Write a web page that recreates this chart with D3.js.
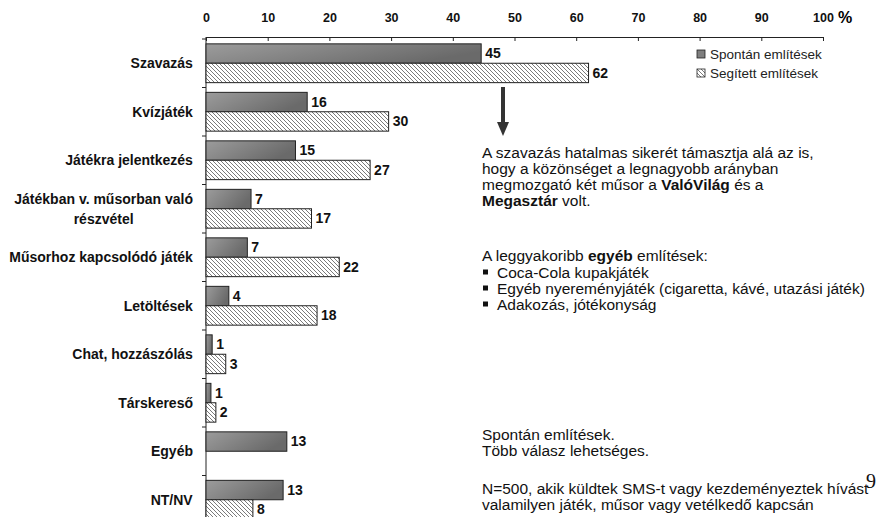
<html>

<head>
    <meta charset="utf-8">
    <script src="https://d3js.org/d3.v7.min.js"></script>
    <style>
        body {
            margin: 0;
            background-color: white;
            font-family: Arial, "Liberation Sans", Helvetica, sans-serif;
        }
        .axis text { font-size: 12.5px; font-weight: bold; fill: #111; }
        .axis path, .axis line { stroke: #222; }
        .note { font-size: 15.5px; fill: #111; }
    </style>
</head>

<body>
    <div id="chart"></div>
    <script>
        // data
        var categories = ["Szavazás", "Kvízjáték", "Játékra jelentkezés", "Játékban v. műsorban való|részvétel",
            "Műsorhoz kapcsolódó játék", "Letöltések", "Chat, hozzászólás", "Társkereső", "Egyéb", "NT/NV"];
        var spontan = [44.6, 16.4, 14.5, 7.3, 6.7, 3.7, 1.0, 0.8, 13.1, 12.5];
        var segitett = [62.0, 29.6, 26.6, 17.1, 21.6, 18.0, 3.2, 1.6, null, 7.6];
        var spontanLabels = ["45", "16", "15", "7", "7", "4", "1", "1", "13", "13"];
        var segitettLabels = ["62", "30", "27", "17", "22", "18", "3", "2", "", "8"];
        var seriesNames = ["Spontán említések", "Segített említések"];
        var xTicks = [0, 10, 20, 30, 40, 50, 60, 70, 80, 90, 100];

        var width = 881, height = 517;

        var svg = d3.select("#chart").append("svg")
            .attr("width", width).attr("height", height);

        var defs = svg.append("defs");
        var grad = defs.append("linearGradient").attr("id", "darkGrad")
            .attr("x1", "0").attr("y1", "0").attr("x2", "1").attr("y2", "0.4");
        grad.append("stop").attr("offset", "0").attr("stop-color", "#9c9c9c");
        grad.append("stop").attr("offset", "1").attr("stop-color", "#6a6a6a");

        var hatch = defs.append("pattern").attr("id", "hatch")
            .attr("patternUnits", "userSpaceOnUse")
            .attr("width", 4).attr("height", 4);
        hatch.append("rect").attr("width", 4).attr("height", 4).attr("fill", "white");
        hatch.append("path")
            .attr("d", "M-1,-1 L5,5 M3,-1 L5,1 M-1,3 L1,5")
            .attr("stroke", "#7a7a7a").attr("stroke-width", 1);

        var x = d3.scaleLinear().domain([0, 100]).range([206, 823]);
        var y = d3.scaleBand().domain(categories).range([39, 524])
            .paddingInner(0.2).paddingOuter(0.1);
        var sub = d3.scaleBand().domain(seriesNames).range([0, y.bandwidth()]);

        // top axis
        svg.append("g")
            .attr("class", "axis")
            .attr("transform", "translate(0,37)")
            .call(d3.axisTop(x).tickValues(xTicks).tickSizeInner(-4).tickSizeOuter(0).tickPadding(15))
            .call(function (g) { g.selectAll("text").attr("dy", "0"); });

        svg.append("text")
            .attr("x", 838).attr("y", 23)
            .style("font-size", "16px").style("font-weight", "bold")
            .text("%");

        // left axis line with ticks at category boundaries
        var bounds = d3.range(categories.length + 1).map(function (i) { return 39 + i * y.step(); });
        svg.append("line")
            .attr("x1", x(0)).attr("x2", x(0))
            .attr("y1", 37).attr("y2", height)
            .attr("stroke", "#222");
        svg.selectAll(".ytick").data(bounds).enter().append("line")
            .attr("class", "ytick")
            .attr("x1", x(0) - 4).attr("x2", x(0))
            .attr("y1", function (d) { return d; }).attr("y2", function (d) { return d; })
            .attr("stroke", "#222");

        // category labels
        var catG = svg.selectAll(".cat").data(categories).enter().append("text")
            .attr("class", "cat")
            .attr("text-anchor", "middle")
            .style("font-size", "14px").style("font-weight", "bold").style("fill", "#111");
        catG.each(function (d) {
            var lines = d.split("|");
            var el = d3.select(this);
            var cy = y(d) + y.bandwidth() / 2;
            lines.forEach(function (l, i) {
                el.append("tspan")
                    .attr("y", cy + (i - (lines.length - 1) / 2) * 20)
                    .attr("dy", "0.35em")
                    .text(l);
            });
            el.selectAll("tspan").attr("x", 0);
            var bb = this.getBBox();
            el.selectAll("tspan").attr("x", 193 - bb.width / 2);
        });

        // bars
        var rows = categories.map(function (c, i) {
            return { cat: c, sp: spontan[i], sg: segitett[i], spl: spontanLabels[i], sgl: segitettLabels[i] };
        });

        svg.selectAll(".bar-sp").data(rows).enter().append("rect")
            .attr("class", "bar-sp")
            .attr("x", x(0))
            .attr("y", function (d) { return y(d.cat) + sub(seriesNames[0]); })
            .attr("width", function (d) { return x(d.sp) - x(0); })
            .attr("height", sub.bandwidth())
            .attr("fill", "url(#darkGrad)")
            .attr("stroke", "#222").attr("stroke-width", 1);

        svg.selectAll(".bar-sg").data(rows.filter(function (d) { return d.sg != null; })).enter().append("rect")
            .attr("class", "bar-sg")
            .attr("x", x(0))
            .attr("y", function (d) { return y(d.cat) + sub(seriesNames[1]); })
            .attr("width", function (d) { return x(d.sg) - x(0); })
            .attr("height", sub.bandwidth())
            .attr("fill", "url(#hatch)")
            .attr("stroke", "#222").attr("stroke-width", 1);

        svg.selectAll(".lab-sp").data(rows).enter().append("text")
            .attr("x", function (d) { return x(d.sp) + 4; })
            .attr("y", function (d) { return y(d.cat) + sub(seriesNames[0]) + sub.bandwidth() / 2; })
            .attr("dy", "0.35em")
            .style("font-size", "14px").style("font-weight", "bold").style("fill", "#111")
            .text(function (d) { return d.spl; });

        svg.selectAll(".lab-sg").data(rows.filter(function (d) { return d.sg != null; })).enter().append("text")
            .attr("x", function (d) { return x(d.sg) + 4; })
            .attr("y", function (d) { return y(d.cat) + sub(seriesNames[1]) + sub.bandwidth() / 2; })
            .attr("dy", "0.35em")
            .style("font-size", "14px").style("font-weight", "bold").style("fill", "#111")
            .text(function (d) { return d.sgl; });

        // legend
        var legend = svg.selectAll(".legend").data(seriesNames).enter().append("g")
            .attr("transform", function (d, i) { return "translate(697," + (50 + i * 19) + ")"; });
        legend.append("rect")
            .attr("width", 8).attr("height", 8)
            .attr("fill", function (d, i) { return i === 0 ? "#7f7f7f" : "url(#hatch)"; })
            .attr("stroke", "#222").attr("stroke-width", 0.8);
        legend.append("text")
            .attr("x", 13).attr("y", 4).attr("dy", "0.35em")
            .style("font-size", "13.5px").style("fill", "#222")
            .text(function (d) { return d; });

        // arrow
        svg.append("line")
            .attr("x1", 503).attr("x2", 503).attr("y1", 87).attr("y2", 124)
            .attr("stroke", "#333").attr("stroke-width", 4);
        svg.append("path")
            .attr("d", "M497,122 L509,122 L503,136 Z")
            .attr("fill", "#333");

        // notes
        function note(lines, x0, y0, step) {
            var t = svg.append("text").attr("class", "note");
            lines.forEach(function (parts, i) {
                var first = true;
                parts.forEach(function (p) {
                    var ts = t.append("tspan").text(p[0]);
                    if (p[1]) ts.style("font-weight", "bold");
                    if (first) { ts.attr("x", x0).attr("y", y0 + i * step); first = false; }
                });
            });
            return t;
        }

        note([
            [["A szavazás hatalmas sikerét támasztja alá az is,"]],
            [["hogy a közönséget a legnagyobb arányban"]],
            [["megmozgató két műsor a "], ["ValóVilág", true], [" és a"]],
            [["Megasztár", true], [" volt."]]
        ], 482, 157.5, 16);

        note([[["A leggyakoribb "], ["egyéb", true], [" említések:"]]], 482, 261, 16);
        var bullets = ["Coca-Cola kupakjáték", "Egyéb nyereményjáték (cigaretta, kávé, utazási játék)", "Adakozás, jótékonyság"];
        bullets.forEach(function (b, i) {
            svg.append("rect").attr("x", 483).attr("y", 272 + i * 16 - 2.5)
                .attr("width", 5).attr("height", 5).attr("fill", "#111");
            note([[[b]]], 497, 277.5 + i * 16, 16);
        });

        note([[["Spontán említések."]], [["Több válasz lehetséges."]]], 482, 439.5, 16);
        note([[["N=500, akik küldtek SMS-t vagy kezdeményeztek hívást"]],
            [["valamilyen játék, műsor vagy vetélkedő kapcsán"]]], 482, 493.5, 16);

        svg.append("text")
            .attr("x", 866).attr("y", 488)
            .style("font-family", "'Liberation Serif', 'DejaVu Serif', serif")
            .style("font-size", "20px").style("fill", "#111")
            .text("9");
    </script>
</body>

</html>
